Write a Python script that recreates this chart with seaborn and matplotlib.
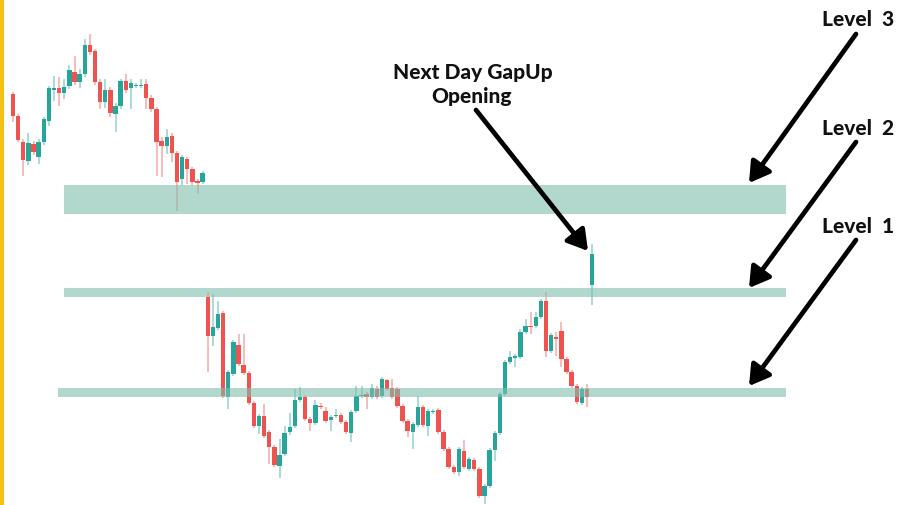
import matplotlib
matplotlib.use('Agg')
import matplotlib.pyplot as plt
from matplotlib.patches import Rectangle
import numpy as np
import pandas as pd
import seaborn as sns


# Dados dos candles (preço)
abertura = [411, 389, 363, 344, 361, 348, 363, 384, 415, 417, 412, 419, 433, 423, 431, 460, 454, 423, 403, 415,
            391, 399, 424, 417, 419, 419, 421, 407, 396, 364, 359, 369, 352, 326, 346, 336, 324, 323,
            208, 169, 177, 192, 108, 131, 160, 140, 132, 102, 79, 89, 73, 58, 39, 51, 73, 79, 105, 108, 86, 82,
            99, 94, 85, 89, 90, 83, 72, 94, 109, 111, 108, 116, 109, 125, 117, 116, 99, 84, 73, 80,
            98, 79, 93, 95, 73, 56, 38, 33, 54, 36, 45, 36, 9, 19, 55, 72, 111, 143, 147, 148,
            173, 179, 179, 188, 204, 154, 168, 174, 146, 133, 119, 102, 116, 220]
maxima = [413, 391, 366, 372, 364, 366, 388, 419, 429, 428, 426, 440, 449, 436, 466, 471, 456, 426, 426, 418,
          402, 426, 431, 426, 422, 426, 426, 410, 398, 368, 376, 372, 354, 350, 348, 338, 326, 334,
          213, 211, 204, 194, 135, 165, 171, 171, 134, 104, 91, 101, 75, 60, 66, 79, 92, 116, 118, 110, 88, 105,
          102, 98, 90, 96, 92, 85, 95, 119, 119, 113, 121, 119, 128, 126, 126, 118, 101, 86, 83, 109,
          100, 96, 96, 97, 75, 58, 40, 58, 65, 48, 47, 38, 21, 57, 74, 113, 145, 154, 151, 176,
          186, 193, 193, 206, 213, 172, 173, 183, 148, 135, 121, 118, 121, 261]
minimas = [383, 363, 329, 340, 350, 341, 360, 379, 404, 399, 406, 416, 420, 417, 428, 450, 420, 396, 397, 388,
           373, 396, 412, 396, 417, 417, 396, 393, 329, 328, 351, 343, 294, 320, 321, 320, 311, 321,
           133, 159, 175, 107, 96, 129, 139, 130, 100, 77, 71, 67, 41, 38, 27, 49, 70, 77, 103, 84, 74, 80,
           96, 82, 74, 87, 81, 71, 63, 92, 107, 96, 106, 106, 107, 114, 106, 97, 82, 68, 56, 78,
           78, 69, 91, 71, 54, 36, 31, 29, 36, 34, 34, 7, 1, 17, 44, 70, 109, 141, 138, 146,
           171, 171, 177, 186, 148, 152, 149, 138, 131, 117, 101, 100, 98, 200]
fechamento = [389, 365, 345, 362, 353, 363, 386, 417, 417, 412, 418, 435, 423, 431, 460, 453, 423, 403, 415, 392,
              399, 424, 415, 422, 420, 420, 407, 396, 363, 359, 368, 352, 323, 348, 336, 323, 322, 332,
              169, 178, 191, 109, 133, 163, 141, 132, 102, 79, 89, 69, 58, 40, 50, 72, 78, 105, 108, 86, 82, 100,
              98, 84, 88, 90, 83, 73, 93, 109, 110, 108, 117, 108, 126, 116, 108, 99, 84, 74, 81, 98,
              80, 94, 94, 73, 56, 38, 33, 56, 38, 46, 36, 9, 19, 55, 72, 111, 143, 148, 149, 173,
              179, 178, 188, 204, 154, 170, 166, 146, 133, 119, 103, 116, 108, 251]

# Zonas de suporte/resistência (faixa de preço)
niveis_nome = ['Level 1', 'Level 2', 'Level 3']
niveis_inf = [108, 208, 291]
niveis_sup = [117, 217, 320]

titulo_gap = ['Next Day GapUp', 'Opening']

####################################################################################################################################

sns.set_theme(style='white')
plt.rcParams['font.family'] = ['Lato', 'DejaVu Sans']

W, H = 898, 506


def px(x, y):
    # converte pixel da imagem para fração dos eixos
    return (x / W, 1 - y / H)


df = pd.DataFrame({'open': abertura, 'high': maxima, 'low': minimas, 'close': fechamento})
df['idx'] = np.arange(len(df))
df['alta'] = df['close'] >= df['open']

verde = '#26A69A'
vermelho = '#EF5350'

fig = plt.figure(figsize=(W / 100, H / 100), dpi=100)
ax = fig.add_axes([0, 0, 1, 1])
ax.set_facecolor('white')

cores = np.where(df['alta'], verde, vermelho)

# pavios
ax.vlines(df['idx'], df['low'], df['high'], colors=cores, linewidth=1.1, alpha=0.5, zorder=2)

# corpos
base = np.minimum(df['open'], df['close'])
altura = np.maximum((df['close'] - df['open']).abs(), 1.5)
ax.bar(df['idx'], altura, bottom=base, width=0.85, color=cores, linewidth=0, zorder=3)

ax.set_xlim(-13 / 5.125, (W - 13) / 5.125)
ax.set_ylim(0, H)
ax.axis('off')

# faixas dos níveis
inicio_faixa = [58 / W, 64 / W, 64 / W]
for ini, lo, hi in zip(inicio_faixa, niveis_inf, niveis_sup):
    ax.axhspan(lo, hi, xmin=ini, xmax=786 / W, color='#7FBFAE', alpha=0.6, lw=0, zorder=4)

# barra amarela na borda esquerda
ax.add_patch(Rectangle((0, 0), 4 / W, 1, transform=ax.transAxes, color='#F5C116', lw=0, zorder=6))

seta = dict(arrowstyle='-|>,head_length=0.6,head_width=0.36', lw=3.4, color='black',
            mutation_scale=20, shrinkA=0, shrinkB=0)
fonte = dict(fontsize=15, fontweight='black', color='#111111', ha='center', va='baseline', zorder=7)

# rótulos dos níveis e setas
base_texto = [233, 135, 26]
cauda_y = [241, 143, 35]
ponta_y = [387, 289, 184]
for nome, yb, yc, yp in zip(niveis_nome, base_texto, cauda_y, ponta_y):
    ax.text(*px(858, yb), nome.replace(' ', '  '), transform=ax.transAxes, **fonte)
    ax.annotate('', xy=px(749, yp), xytext=px(856, yc), xycoords='axes fraction',
                textcoords='axes fraction', arrowprops=seta, zorder=7)

# anotação do gap
ax.text(*px(473, 79), titulo_gap[0], transform=ax.transAxes, **fonte)
ax.text(*px(471, 103), titulo_gap[1], transform=ax.transAxes, **fonte)
ax.annotate('', xy=px(588, 252), xytext=px(476, 111), xycoords='axes fraction',
            textcoords='axes fraction', arrowprops=seta, zorder=7)

fig.savefig('out.png', dpi=100, facecolor='white')
